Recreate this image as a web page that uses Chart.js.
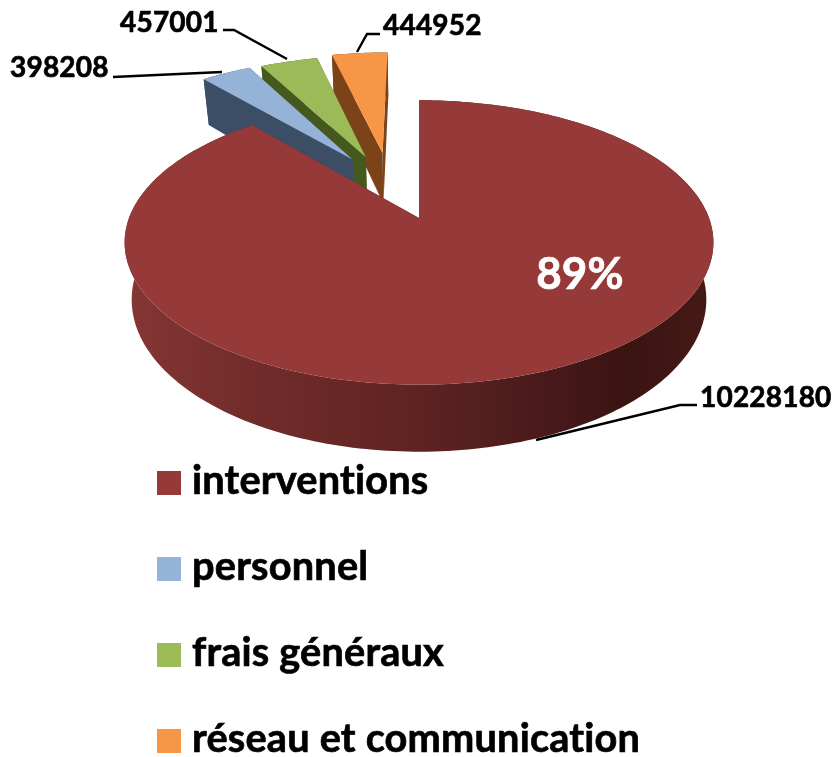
<!DOCTYPE html>
<html>
<head>
<meta charset="utf-8">
<script src="https://cdn.jsdelivr.net/npm/chart.js@4"></script>
<style>
    body { margin: 0; background: #fff; }
    canvas { display: block; }
</style>
</head>
<body>
<canvas id="pieChart" width="834" height="757"></canvas>
<script>
const categories = ['interventions', 'personnel', 'frais généraux', 'réseau et communication'];
const values = [10228180, 398208, 457001, 444952];
const topColors = ['#953a38', '#95b3d7', '#9bbb59', '#f79646'];
const sideColors = ['#662826', '#3c4d66', '#45591f', '#7b4317'];
// explode distance, in percent of the radius, and how far the direction is turned (degrees)
const explode = [0, 52, 51.5, 53];
const explodeTurn = [0, 6, -1.6, -8];

// 3D view of the disc
const CX = 419, CY = 218, RX = 290, RY = 138, PERSP = 0.172, DEPTH = 55.5, BOTTOM_SCALE = 0.976;

function project(u, v, lower) {
    const k = 1 / (1 - PERSP * v);
    const x = CX + RX * u * k;
    const y = CY + RY * v * k;
    if (!lower) return [x, y];
    return [CX + (x - CX) * BOTTOM_SCALE, y + DEPTH * k];
}

function fillPoly(ctx, pts, color) {
    ctx.fillStyle = color;
    ctx.beginPath();
    pts.forEach((p, i) => i ? ctx.lineTo(p[0], p[1]) : ctx.moveTo(p[0], p[1]));
    ctx.closePath();
    ctx.fill();
}

function redWallGradient(ctx) {
    const g = ctx.createLinearGradient(125, 0, 715, 0);
    g.addColorStop(0, '#853634');
    g.addColorStop(0.2, '#722d2b');
    g.addColorStop(0.5, '#5e2321');
    g.addColorStop(0.75, '#45181a');
    g.addColorStop(0.85, '#3a1411');
    g.addColorStop(1, '#471a17');
    return g;
}

function drawSlice(ctx, arc, index) {
    const start = arc.startAngle, end = arc.endAngle, mid = (start + end) / 2;
    const off = arc.options.offset / 100;
    const dir = mid + explodeTurn[index] * Math.PI / 180;
    const ox = Math.cos(dir) * off, oy = Math.sin(dir) * off;

    const steps = Math.ceil((end - start) / 0.02);
    const rim = [];
    for (let i = 0; i <= steps; i++) {
        const a = start + (end - start) * i / steps;
        rim.push([ox + Math.cos(a), oy + Math.sin(a)]);
    }
    const up = p => project(p[0], p[1], false);
    const down = p => project(p[0], p[1], true);
    const centre = [ox, oy];
    const side = index === 0 ? redWallGradient(ctx) : sideColors[index];

    const outerWall = () => fillPoly(ctx, rim.map(up).concat(rim.slice().reverse().map(down)), side);
    const radialWalls = () => {
        [rim[0], rim[rim.length - 1]].forEach(p => {
            fillPoly(ctx, [up(centre), up(p), down(p), down(centre)], sideColors[index]);
        });
    };

    if (Math.sin(mid) < 0) {
        outerWall();
        radialWalls();
    } else {
        radialWalls();
        outerWall();
    }
    fillPoly(ctx, [up(centre)].concat(rim.map(up)), topColors[index]);
}

function drawLeader(ctx, pts) {
    ctx.strokeStyle = '#000';
    ctx.lineWidth = 2.4;
    ctx.beginPath();
    pts.forEach((p, i) => i ? ctx.lineTo(p[0], p[1]) : ctx.moveTo(p[0], p[1]));
    ctx.stroke();
}

// fill plus a thin stroke, the reference text is heavier than Lato Bold
function heavyText(ctx, text, x, y) {
    ctx.strokeStyle = ctx.fillStyle;
    ctx.lineWidth = 0.7;
    ctx.strokeText(text, x, y);
    ctx.fillText(text, x, y);
}

const pie3d = {
    id: 'pie3d',
    beforeDatasetsDraw(chart) {
        const ctx = chart.ctx;
        const arcs = chart.getDatasetMeta(0).data;
        ctx.save();
        // each exploded slice covers the wall of the one on its right, big slice last
        [3, 2, 1, 0].forEach(i => drawSlice(ctx, arcs[i], i));
        ctx.restore();
        return false;
    },
    afterDraw(chart) {
        const ctx = chart.ctx;
        ctx.save();
        ctx.textBaseline = 'alphabetic';
        ctx.letterSpacing = '0.2px'; // also stops the Lato "ti" ligature

        // value labels
        ctx.fillStyle = '#000';
        ctx.font = 'bold 28px Lato';
        ctx.textAlign = 'left';
        heavyText(ctx, String(values[1]), 10, 77);
        heavyText(ctx, String(values[2]), 120, 32);
        heavyText(ctx, String(values[3]), 383, 35);
        heavyText(ctx, String(values[0]), 700, 407);
        drawLeader(ctx, [[113, 77], [222, 72]]);
        drawLeader(ctx, [[223, 30], [234, 30], [287, 59]]);
        drawLeader(ctx, [[380, 34], [367, 34], [357, 52]]);
        drawLeader(ctx, [[697, 405], [680, 405], [536, 440]]);

        // percent on the big slice
        const total = values.reduce((a, b) => a + b, 0);
        ctx.fillStyle = '#fff';
        ctx.font = 'bold 44px Lato';
        ctx.textAlign = 'center';
        heavyText(ctx, Math.round(values[0] / total * 100) + '%', 580, 289);

        // legend
        ctx.textAlign = 'left';
        ctx.font = 'bold 39.7px Lato';
        categories.forEach((name, i) => {
            const y = 471 + i * 86;
            ctx.fillStyle = topColors[i];
            ctx.fillRect(157, y, 24, 24);
            ctx.fillStyle = '#000';
            heavyText(ctx, name, 192, y + 23);
        });
        ctx.restore();
    }
};

new Chart(document.getElementById('pieChart').getContext('2d'), {
    type: 'pie',
    data: {
        labels: categories,
        datasets: [{
            data: values,
            backgroundColor: topColors,
            offset: explode,
            borderWidth: 0
        }]
    },
    options: {
        responsive: false,
        animation: false,
        plugins: {
            legend: { display: false },
            tooltip: { enabled: false }
        }
    },
    plugins: [pie3d]
});
</script>
</body>
</html>
